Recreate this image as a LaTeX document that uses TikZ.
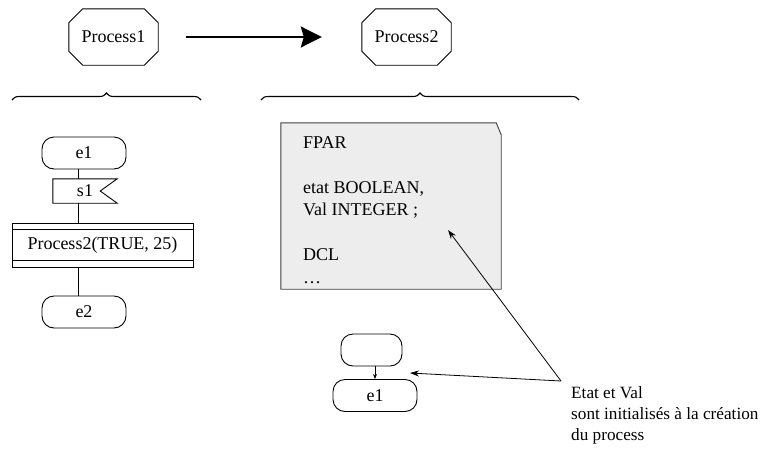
\documentclass[tikz,border=0pt]{standalone}
\usepackage{fontspec}
\setmainfont{Liberation Serif}
\usetikzlibrary{arrows.meta,decorations.pathreplacing,calc}
\newcommand\octo[1]{\draw[ln] ([xshift=14pt]#1.north west) -- ([xshift=-14pt]#1.north east) -- ([yshift=-14pt]#1.north east) -- ([yshift=14pt]#1.south east) -- ([xshift=-14pt]#1.south east) -- ([xshift=14pt]#1.south west) -- ([yshift=14pt]#1.south west) -- ([yshift=-14pt]#1.north west) -- cycle;}
\begin{document}
\begin{tikzpicture}[x=1pt,y=-1pt,
  every node/.style={font=\fontsize{18}{21}\selectfont, inner sep=0pt},
  ln/.style={line width=0.9pt},
  procbox/.style={minimum width=89pt, minimum height=56pt},
  stad/.style={draw, ln, rounded corners=12pt, minimum width=84pt, minimum height=32pt},
  brc/.style={decorate, decoration={brace, amplitude=7pt}, line width=1.1pt},
  ann/.style={line width=0.8pt, -{Stealth[length=9pt,width=6pt]}}]
\useasboundingbox (0,0) rectangle (778,453);

% top processes
\node[procbox] (p1) at (113.5,37) {Process1};
\octo{p1}
\node[procbox] (p2) at (406.5,37) {Process2};
\octo{p2}
\draw[line width=2.2pt, -{Stealth[length=21pt,width=21pt,inset=3pt]}] ([xshift=28pt]p1.east) -- ([xshift=-40pt]p2.west);

% braces
\coordinate (b1l) at (12,100);
\coordinate (b1r) at (201,100);
\coordinate (b2l) at (261,100);
\coordinate (b2r) at (579,100);
\draw[brc] (b1l) -- (b1r);
\draw[brc] (b2l) -- (b2r);

% left flow
\coordinate (lx) at (78,0);
\node[stad] (e1) at (84,153) {e1};
\node[minimum width=64pt, minimum height=24pt] (s1) at (85,191) {s1};
\draw[ln] (s1.north west) -- (s1.north east) -- ([xshift=-17pt]s1.east) -- (s1.south east) -- (s1.south west) -- cycle;
\node[draw, ln, minimum width=181pt, minimum height=44pt] (call) at (102.5,245) {Process2(TRUE, 25)};
\draw[ln] ($(call.north west)+(0,7)$) -- ($(call.north east)+(0,7)$);
\draw[ln] ($(call.south west)+(0,-7)$) -- ($(call.south east)+(0,-7)$);
\node[stad] (e2) at (84,312) {e2};
\draw[ln] (e1.south -| lx) -- (s1.north -| lx);
\draw[ln] (s1.south -| lx) -- (call.north -| lx);
\draw[ln] (call.south -| lx) -- (e2.north -| lx);

% text symbol
\node[minimum width=220pt, minimum height=166pt] (tb) at (391,206) {};
\draw[line width=0.9pt, draw=black!75, fill=black!7] (tb.south west) -- (tb.north west) -- ([xshift=-5pt]tb.north east) -- ([yshift=-12pt]tb.north east) -- (tb.south east) -- cycle;
\node[anchor=base west, align=left, font=\fontsize{18}{22.5}\selectfont] (fpar) at (303,283) {FPAR\\ \strut\\ etat BOOLEAN,\\ Val INTEGER ;\\ \strut\\ DCL\\ \dots};

% small flow
\node[stad, minimum width=61pt] (st) at (371.5,350) {};
\node[stad] (e1b) at (375,395.5) {e1};
\draw[line width=0.8pt, -{Stealth[length=5pt,width=4pt]}] (st.south -| e1b) -- (e1b.north);

% annotation
\node[anchor=base west, align=left, font=\fontsize{17.2}{21}\selectfont] (note) at (571,440) {Etat et Val\\ sont initialisés à la création\\ du process};
\coordinate (ap) at (561,381);
\coordinate (t1) at (448,230);
\coordinate (t2) at (410,373);
\draw[ann] (ap) -- (t1);
\draw[ann] (ap) -- (t2);
\end{tikzpicture}
\end{document}
